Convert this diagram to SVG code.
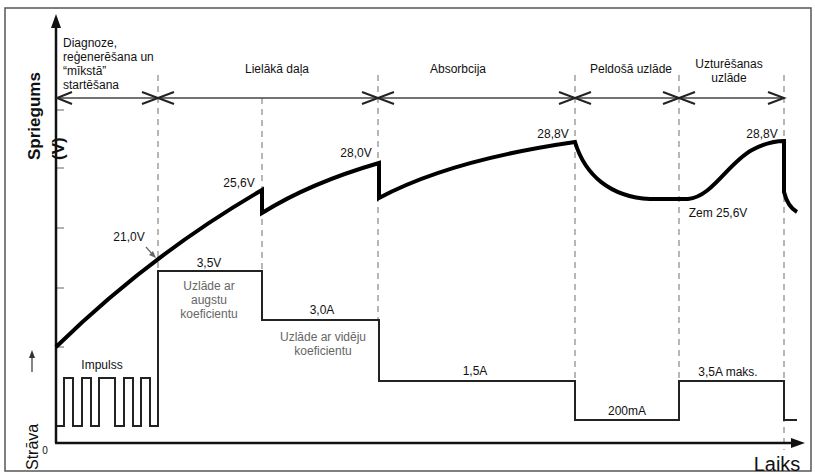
<svg xmlns="http://www.w3.org/2000/svg" width="815" height="474" viewBox="0 0 815 474">
<style>
text{font-family:"Liberation Sans",Arial,sans-serif;font-size:12px;fill:#111}
.g{fill:#666}
.dash{stroke:#888;stroke-width:1.2;stroke-dasharray:6,5;fill:none}
.chev{stroke:#222;stroke-width:2;fill:none}
.tick{stroke:#999;stroke-width:1.5}
</style>
<rect x="0" y="0" width="815" height="474" fill="#fff"/>
<rect x="5" y="8" width="806" height="463" fill="none" stroke="#555" stroke-width="1.5"/>
<g id="dashed">
<line class="dash" x1="158" y1="75" x2="158" y2="270"/>
<line class="dash" x1="262" y1="98" x2="262" y2="270"/>
<line class="dash" x1="378" y1="75" x2="378" y2="320"/>
<line class="dash" x1="575" y1="75" x2="575" y2="381"/>
<line class="dash" x1="679" y1="75" x2="679" y2="381"/>
<line class="dash" x1="784" y1="75" x2="784" y2="450"/>
</g>
<g id="ticks">
<line class="tick" x1="56" y1="110" x2="64" y2="110"/>
<line class="tick" x1="56" y1="168" x2="64" y2="168"/>
<line class="tick" x1="56" y1="228" x2="64" y2="228"/>
<line class="tick" x1="56" y1="288" x2="64" y2="288"/>
<line class="tick" x1="56" y1="347" x2="64" y2="347"/>
</g>
<g id="axes">
<line x1="56" y1="443" x2="56" y2="26" stroke="#111" stroke-width="2.5"/>
<polygon points="56,14 51,28 61,28" fill="#111"/>
<line x1="55" y1="443" x2="792" y2="443" stroke="#111" stroke-width="2.5"/>
<polygon points="805,443 791,438 791,448" fill="#111"/>
<line x1="32" y1="372" x2="32" y2="357" stroke="#333" stroke-width="1.2"/>
<polygon points="32,350 29,358 35,358" fill="#333"/>
</g>
<g id="phases">
<line x1="56" y1="98" x2="784" y2="98" stroke="#444" stroke-width="1.5"/>
<polyline class="chev" points="72,92 57,98 72,104"/>
<polyline class="chev" points="142,92 158,98 142,104"/>
<polyline class="chev" points="174,92 158,98 174,104"/>
<polyline class="chev" points="362,92 378,98 362,104"/>
<polyline class="chev" points="394,92 378,98 394,104"/>
<polyline class="chev" points="559,92 575,98 559,104"/>
<polyline class="chev" points="591,92 575,98 591,104"/>
<polyline class="chev" points="663,92 679,98 663,104"/>
<polyline class="chev" points="695,92 679,98 695,104"/>
<polyline class="chev" points="768,92 784,98 768,104"/>
</g>
<g id="current">
<path d="M57,426 H64 V378 H73 V426 H82 V378 H91 V426 H99 V378 H115 V426 H124 V378 H133 V426 H141 V378 H150 V426 H158 V271 H262 V320 H379 V381 H575 V420 H679 V381 H784 V420 H797" fill="none" stroke="#222" stroke-width="2"/>
</g>
<g id="voltage">
<path d="M56,347 Q150,255 262,190 L262,213 Q310,183 379,163 L379,198 Q450,160 575,142 C585,175 610,197 650,199 L688,199 C712,197 728,163 752,150 C765,143 775,141 784,141 L784,192 C786,200 790,208 797,212" fill="none" stroke="#000" stroke-width="4" stroke-linejoin="miter"/>
<line x1="146" y1="247" x2="153" y2="255" stroke="#666" stroke-width="1.2"/>
<polygon points="156,258 149,255 153,251" fill="#666"/>
</g>
<g id="labels">
<text x="63" y="47">Diagnoze,</text>
<text x="63" y="61">reģenerēšana un</text>
<text x="63" y="75">“mīkstā”</text>
<text x="63" y="89">startēšana</text>
<text x="277" y="73" text-anchor="middle">Lielākā daļa</text>
<text x="458" y="73" text-anchor="middle">Absorbcija</text>
<text x="631" y="73" text-anchor="middle">Peldošā uzlāde</text>
<text x="729" y="68" text-anchor="middle">Uzturēšanas</text>
<text x="729" y="82" text-anchor="middle">uzlāde</text>
<text x="129" y="241" text-anchor="middle">21,0V</text>
<text x="239" y="187" text-anchor="middle">25,6V</text>
<text x="356" y="157" text-anchor="middle">28,0V</text>
<text x="553" y="138" text-anchor="middle">28,8V</text>
<text x="762" y="138" text-anchor="middle">28,8V</text>
<text x="718" y="217" text-anchor="middle">Zem 25,6V</text>
<text x="209" y="267" text-anchor="middle">3,5V</text>
<text class="g" x="209" y="290" text-anchor="middle">Uzlāde ar</text>
<text class="g" x="209" y="304" text-anchor="middle">augstu</text>
<text class="g" x="209" y="318" text-anchor="middle">koeficientu</text>
<text x="322" y="314" text-anchor="middle">3,0A</text>
<text class="g" x="323" y="341" text-anchor="middle">Uzlāde ar vidēju</text>
<text class="g" x="323" y="355" text-anchor="middle">koeficientu</text>
<text x="475" y="375" text-anchor="middle">1,5A</text>
<text x="627" y="415" text-anchor="middle">200mA</text>
<text x="728" y="376" text-anchor="middle">3,5A maks.</text>
<text x="102" y="369" text-anchor="middle">Impulss</text>
<text x="45" y="454" text-anchor="middle" style="font-size:10px">0</text>
<text x="777" y="471" text-anchor="middle" style="font-size:20px">Laiks</text>
<text transform="translate(40,160) rotate(-90)" style="font-size:17px;font-weight:bold">Spriegums</text>
<text transform="translate(64,160) rotate(-90)" style="font-size:17px;font-weight:bold">(V)</text>
<text transform="translate(38,470) rotate(-90)" style="font-size:16px">Strāva</text>
</g>
</svg>
